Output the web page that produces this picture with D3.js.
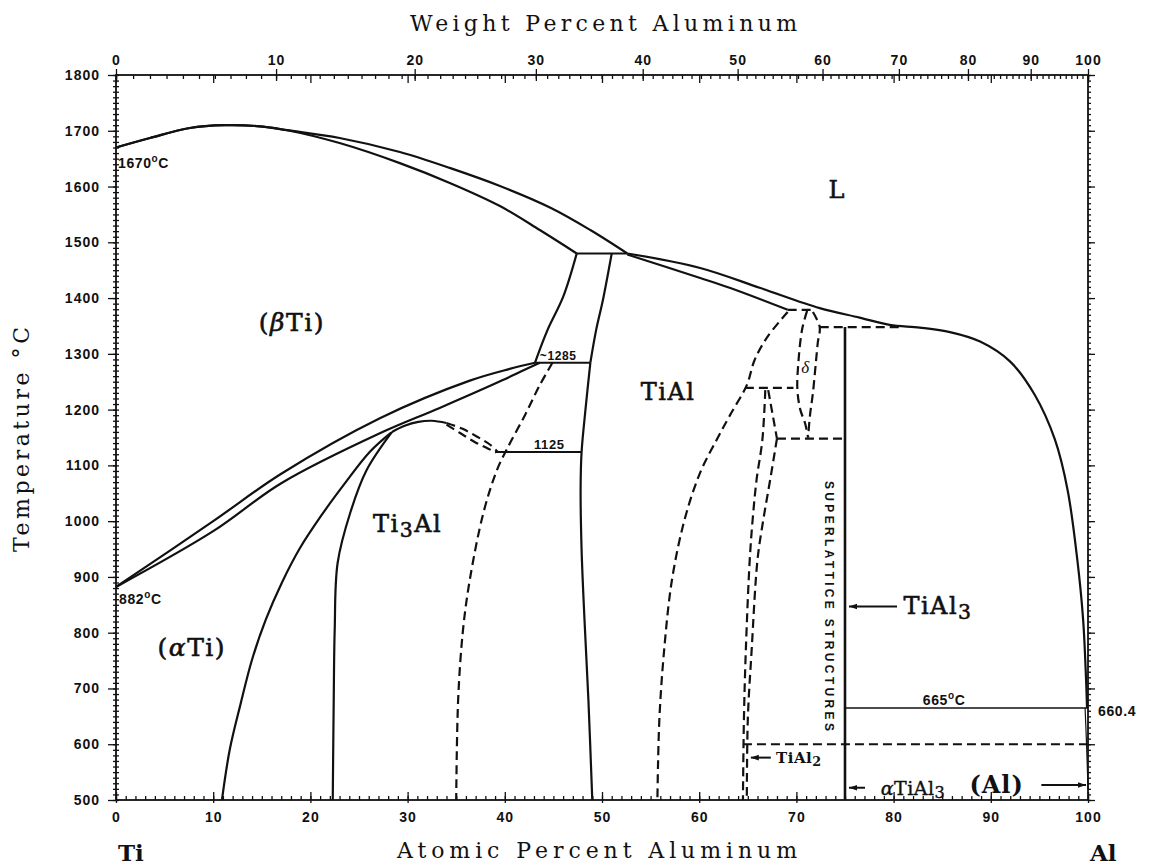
<!DOCTYPE html>
<html>
<head>
<meta charset="utf-8">
<script src="https://cdn.jsdelivr.net/npm/d3@7"></script>
<style>
body { margin: 0; background: #fff; }
</style>
</head>
<body>
<div id="chart"></div>
<script>
var width = 1149;
var height = 868;

// axes
var tempTicks = d3.range(500, 1801, 100);
var tempMinor = d3.range(500, 1801, 10);
var atomicTicks = d3.range(0, 101, 10);
var atomicMinor = d3.range(0, 101, 1);
var weightTicks = d3.range(0, 101, 10);
var weightMinor = d3.range(0, 101, 1);

// phase boundaries: [atomic % Al, temperature C]
var betaLiquidus = [[0,1670],[3.5,1687],[7.6,1705],[11.2,1710],[14.8,1708],[17.6,1701],[23,1687],[29.2,1662],[34.4,1633],[39.5,1601],[44.7,1562],[48.8,1522],[52.6,1480]];
var betaSolidus = [[0,1670],[3.5,1687],[7.6,1705],[11.2,1710],[14.8,1708],[17.6,1701],[23,1678],[29.2,1642],[34.4,1606],[39.5,1565],[43.6,1522],[47.4,1480]];
var alphaLiquidus = [[52.6,1480],[60.1,1454],[66.3,1418],[72.4,1382],[76.5,1365],[79.6,1352],[82.7,1347],[85.8,1339],[88.9,1322],[92.0,1286],[94.5,1227],[96.6,1146],[97.9,1056],[98.9,931],[99.5,823],[99.8,716],[99.9,665]];
var alphaSolidus = [[52.6,1478],[60.1,1436],[63.2,1418],[69.1,1379]];
var betaTransus = [[0,882],[10,1000],[17,1085],[27.2,1185],[36.4,1252],[40.5,1273],[43.1,1284]];
var alphaTransus = [[0,882],[10,982],[17,1068],[27.2,1158],[33.3,1203],[39.8,1253],[41.6,1268],[43.6,1284]];
var betaAlphaHigh = [[43.1,1284],[44.4,1343],[46.0,1402],[47.4,1480]];
var alphaBetaHigh = [[51.0,1480],[50.1,1397],[49.4,1343],[48.8,1284]];
var gammaLeft = [[48.8,1284],[48.3,1200],[47.9,1124],[47.8,1060],[47.9,949],[48.2,823],[48.6,680],[49.0,500]];
var alphaSolvus = [[10.9,500],[11.7,590],[12.8,671],[14.0,752],[15.4,823],[17.1,891],[18.9,951],[21.2,1012],[23.6,1069],[26.1,1124],[28.4,1160]];
var alpha2Left = [[22.3,500],[22.4,680],[22.5,805],[22.8,925],[24.1,1015],[25.8,1092],[28.4,1160]];
var alpha2Dome = [[28.4,1160],[29.7,1171],[31.1,1178],[32.5,1180],[34.0,1176]];
var tial3Line = [[75,1348],[75,500]];
var alSolvus = [[99.7,665],[99.85,600],[100,520]];

var alpha2DomeDashA = [[34.0,1176],[35.6,1166],[37.2,1151],[38.5,1137],[39.3,1124]];
var alpha2DomeDashB = [[34.0,1173],[35.4,1158],[36.9,1142],[38.3,1130],[39.1,1123]];
var alpha2Right = [[44.9,1284],[43.6,1244],[42.1,1191],[40.3,1132],[39.2,1092],[37.8,1015],[36.4,895],[35.7,805],[35.2,680],[35.0,500]];
var gammaRight = [[69.1,1375],[67.0,1330],[65.7,1289],[64.9,1244],[63.2,1191],[61.8,1146],[60.1,1087],[58.5,1003],[57.2,895],[56.4,770],[55.9,644],[55.7,500]];
var deltaLeft = [[71.1,1377],[70.6,1345],[70.2,1284],[70.1,1236],[70.4,1200],[70.9,1175],[71.2,1150]];
var deltaRight = [[71.7,1375],[72.4,1348],[72.2,1320],[72.0,1284],[71.7,1230],[71.4,1190],[71.2,1150]];
var tial2Left = [[66.8,1235],[66.5,1146],[65.9,1074],[65.5,1003],[65.2,931],[64.8,770],[64.6,644],[64.5,500]];
var tial2Top = [[67.1,1235],[68.0,1148]];
var tial2Right = [[68.0,1148],[67.3,1074],[66.6,1003],[66.0,931],[65.4,770],[65.0,644],[64.9,500]];

// invariant lines: [from % Al, to % Al, temperature]
var solidIsotherms = [[47.4,52.6,1480],[43.1,48.8,1284],[39.0,47.9,1124],[75,100,665]];
var dashedIsotherms = [[69.1,71.7,1379],[64.7,69.7,1239],[72.4,80.6,1348],[68.0,74.9,1148],[64.5,100,600]];

var svg = d3.select("#chart").append("svg")
	.attr("width", width)
	.attr("height", height);

var x = d3.scaleLinear().domain([0, 100]).range([116, 1088]);
var y = d3.scaleLinear().domain([500, 1800]).range([800, 75]);

// weight % -> atomic %
function wtToAt(w) {
	var al = w / 26.98, ti = (100 - w) / 47.87;
	return w >= 100 ? 100 : 100 * al / (al + ti);
}

var ink = "#111";
var numFont = "'Liberation Sans', Arial, sans-serif";
var typeFont = "'DejaVu Serif', 'Liberation Serif', serif";

function styleAxis(g) {
	g.select(".domain").remove();
	g.selectAll("line").attr("stroke", ink).attr("stroke-width", 1.3);
	g.selectAll("text")
		.attr("font-family", numFont)
		.attr("font-size", 14)
		.attr("font-weight", "bold")
		.attr("letter-spacing", 1)
		.attr("fill", ink);
}

// bottom axis (atomic percent)
var bottomAxis = svg.append("g").attr("transform", "translate(0," + y(500) + ")");
bottomAxis.append("g").call(d3.axisBottom(x).tickValues(atomicMinor).tickSize(-4).tickFormat("")).call(styleAxis);
bottomAxis.append("g").call(d3.axisBottom(x).tickValues(atomicTicks).tickSize(3).tickFormat("")).call(styleAxis);
bottomAxis.append("g").call(d3.axisBottom(x).tickValues(atomicTicks).tickSizeInner(-8).tickSizeOuter(0).tickPadding(12).tickFormat(d3.format("d"))).call(styleAxis);

// left axis
var leftAxis = svg.append("g").attr("transform", "translate(" + x(0) + ",0)");
leftAxis.append("g").call(d3.axisLeft(y).tickValues(tempMinor).tickSize(3).tickFormat("")).call(styleAxis);
leftAxis.append("g").call(d3.axisLeft(y).tickValues(tempMinor).tickSize(-3).tickFormat("")).call(styleAxis);
leftAxis.append("g").call(d3.axisLeft(y).tickValues(tempTicks).tickSize(8).tickPadding(8).tickFormat(d3.format("d"))).call(styleAxis);

// right axis
var rightAxis = svg.append("g").attr("transform", "translate(" + x(100) + ",0)");
rightAxis.append("g").call(d3.axisRight(y).tickValues(tempMinor).tickSize(3).tickFormat("")).call(styleAxis);
rightAxis.append("g").call(d3.axisRight(y).tickValues(tempTicks).tickSize(7).tickFormat("")).call(styleAxis);

// top axis (weight percent)
var topAxis = svg.append("g").attr("transform", "translate(0," + y(1800) + ")");
topAxis.append("g").call(d3.axisTop(x).tickValues(weightMinor.map(wtToAt)).tickSize(-4).tickFormat("")).call(styleAxis);
topAxis.append("g").call(d3.axisTop(x).tickValues(atomicTicks).tickSize(-8).tickFormat("")).call(styleAxis);
topAxis.append("g").call(d3.axisTop(x).tickValues(weightTicks.map(wtToAt)).tickSize(-6).tickFormat("")).call(styleAxis);
topAxis.append("g").call(d3.axisTop(x).tickValues(weightTicks.map(wtToAt)).tickSizeInner(6).tickSizeOuter(0).tickPadding(4)
	.tickFormat(function (d, i) { return weightTicks[i]; })).call(styleAxis);

// frame
svg.append("rect")
	.attr("x", x(0)).attr("y", y(1800))
	.attr("width", x(100) - x(0)).attr("height", y(500) - y(1800))
	.attr("fill", "none").attr("stroke", ink).attr("stroke-width", 1.8);

var line = d3.line()
	.x(function (d) { return x(d[0]); })
	.y(function (d) { return y(d[1]); })
	.curve(d3.curveCatmullRom.alpha(0.5));

var solidCurves = [betaLiquidus, betaSolidus, alphaLiquidus, alphaSolidus, betaTransus, alphaTransus,
	betaAlphaHigh, alphaBetaHigh, gammaLeft, alphaSolvus, alpha2Left, alpha2Dome];
var dashedCurves = [alpha2DomeDashA, alpha2DomeDashB, alpha2Right, gammaRight, deltaLeft, deltaRight,
	tial2Left, tial2Top, tial2Right];

svg.append("g").selectAll("path")
	.data(solidCurves)
	.enter().append("path")
	.attr("d", line)
	.attr("fill", "none").attr("stroke", ink).attr("stroke-width", 2.2);

svg.append("g").selectAll("path")
	.data(dashedCurves)
	.enter().append("path")
	.attr("d", line)
	.attr("fill", "none").attr("stroke", ink).attr("stroke-width", 2.2)
	.attr("stroke-dasharray", "9,5");

svg.append("path").attr("d", d3.line().x(function (d) { return x(d[0]); }).y(function (d) { return y(d[1]); })(tial3Line))
	.attr("stroke", ink).attr("stroke-width", 2.6);
svg.append("path").attr("d", line(alSolvus))
	.attr("fill", "none").attr("stroke", ink).attr("stroke-width", 1.2);

svg.append("g").selectAll("line")
	.data(solidIsotherms)
	.enter().append("line")
	.attr("x1", function (d) { return x(d[0]); })
	.attr("x2", function (d) { return x(d[1]); })
	.attr("y1", function (d) { return y(d[2]); })
	.attr("y2", function (d) { return y(d[2]); })
	.attr("stroke", ink)
	.attr("stroke-width", function (d) { return d[2] < 700 ? 1.5 : 2; });

svg.append("g").selectAll("line")
	.data(dashedIsotherms)
	.enter().append("line")
	.attr("x1", function (d) { return x(d[0]); })
	.attr("x2", function (d) { return x(d[1]); })
	.attr("y1", function (d) { return y(d[2]); })
	.attr("y2", function (d) { return y(d[2]); })
	.attr("stroke", ink).attr("stroke-width", 2.2)
	.attr("stroke-dasharray", "9,5");

// arrow heads
svg.append("defs").append("marker")
	.attr("id", "arr").attr("viewBox", "0 0 10 10")
	.attr("refX", 10).attr("refY", 5)
	.attr("markerWidth", 4).attr("markerHeight", 4)
	.attr("orient", "auto")
	.append("path").attr("d", "M0,1.5L10,5L0,8.5Z").attr("fill", ink);

function arrow(x1, y1, x2, y2) {
	svg.append("line")
		.attr("x1", x1).attr("y1", y1).attr("x2", x2).attr("y2", y2)
		.attr("stroke", ink).attr("stroke-width", 2)
		.attr("marker-end", "url(#arr)");
}

// small temperature notes
function degLabel(px, py, num, unit) {
	var t = svg.append("text")
		.attr("x", px).attr("y", py)
		.attr("font-family", numFont).attr("font-size", 14).attr("font-weight", "bold")
		.attr("letter-spacing", 0.6).attr("fill", ink);
	t.append("tspan").text(num);
	if (unit) {
		t.append("tspan").attr("dy", -6).attr("font-size", 10).text("o");
		t.append("tspan").attr("dy", 6).text("C");
	}
	return t;
}
degLabel(x(0) + 2, y(1670) + 20, "1670", true);
degLabel(x(0) + 3, y(882) + 17, "882", true);
degLabel(x(83.0), y(665) - 3, "665", true);
degLabel(x(100) + 10, y(665) + 8, "660.4", false);
degLabel(x(43.6), y(1284) - 3, "~1285", false).attr("font-size", 12);
degLabel(x(43.0), y(1124) - 3, "1125", false).attr("font-size", 13);

// phase labels
function phase(px, py, parts, size) {
	var fs = size || 24;
	var t = svg.append("text")
		.attr("x", px).attr("y", py)
		.attr("text-anchor", "middle")
		.attr("dominant-baseline", "central")
		.attr("font-family", typeFont)
		.attr("font-size", fs)
		.attr("letter-spacing", 1.5)
		.attr("fill", ink)
		.attr("stroke", ink).attr("stroke-width", 0.6);
	parts.forEach(function (p) {
		var s = t.append("tspan").text(p.t);
		if (p.sub) s.attr("dy", fs * 0.25).attr("font-size", fs * 0.85);
		if (p.back) s.attr("dy", -fs * 0.25);
		if (p.it) s.attr("font-style", "italic");
	});
	return t;
}
phase(x(74.2), y(1594), [{t: "L"}]);
phase(x(18.1), y(1357), [{t: "("}, {t: "\u03b2", it: true}, {t: "Ti)"}], 25);
phase(x(56.8), y(1232), [{t: "TiAl"}]);
phase(x(30.0), y(995), [{t: "Ti"}, {t: "3", sub: true}, {t: "Al", back: true}]);
phase(x(7.8), y(775), [{t: "("}, {t: "\u03b1", it: true}, {t: "Ti)"}], 25);

svg.append("text")
	.attr("x", x(70.9)).attr("y", y(1275))
	.attr("text-anchor", "middle").attr("dominant-baseline", "central")
	.attr("font-family", "'Liberation Serif', serif").attr("font-style", "italic")
	.attr("font-size", 17).attr("fill", ink).text("\u03b4");

// TiAl3 and friends
arrow(x(75) + 52, y(847), x(75) + 4, y(847));
phase(x(75) + 93, y(847), [{t: "TiAl"}, {t: "3", sub: true}], 24);
arrow(x(64.9) + 24, y(576), x(64.9) + 4, y(576));
phase(x(64.9) + 52, y(576), [{t: "TiAl"}, {t: "2", sub: true}], 15).attr("font-weight", "bold").attr("letter-spacing", 0.5).attr("stroke-width", 0);
arrow(x(75) + 20, y(522), x(75) + 4, y(522));
phase(x(75) + 68, y(522), [{t: "\u03b1", it: true}, {t: "TiAl"}, {t: "3", sub: true}], 19).attr("letter-spacing", 0.5).attr("stroke-width", 0.4);
phase(x(90.6), y(528), [{t: "(Al)"}], 24).attr("font-weight", "bold").attr("letter-spacing", 1).attr("stroke-width", 0);
arrow(x(95.2), y(527), x(100) - 2, y(527));

svg.append("text")
	.attr("transform", "translate(" + (x(75) - 16) + "," + y(848) + ") rotate(90)")
	.attr("text-anchor", "middle").attr("dominant-baseline", "central")
	.attr("font-family", numFont).attr("font-size", 12).attr("font-weight", "bold")
	.attr("textLength", 250).attr("lengthAdjust", "spacing")
	.attr("fill", ink)
	.text("SUPERLATTICE STRUCTURES");

// axis titles and end members
svg.append("text")
	.attr("x", 410).attr("y", 31)
	.attr("font-family", typeFont).attr("font-size", 22)
	.attr("textLength", 387).attr("lengthAdjust", "spacing").attr("fill", ink)
	.text("Weight Percent Aluminum");
svg.append("text")
	.attr("x", 397).attr("y", 858)
	.attr("font-family", typeFont).attr("font-size", 22)
	.attr("textLength", 400).attr("lengthAdjust", "spacing").attr("fill", ink)
	.text("Atomic Percent Aluminum");
svg.append("text")
	.attr("transform", "translate(29,552) rotate(-90)")
	.attr("font-family", typeFont).attr("font-size", 22)
	.attr("textLength", 225).attr("lengthAdjust", "spacing").attr("fill", ink)
	.text("Temperature \u00b0C");
svg.append("text")
	.attr("x", 118).attr("y", 861)
	.attr("font-family", typeFont).attr("font-size", 23).attr("font-weight", "bold").attr("fill", ink)
	.text("Ti");
svg.append("text")
	.attr("x", 1090).attr("y", 861)
	.attr("font-family", typeFont).attr("font-size", 23).attr("font-weight", "bold").attr("fill", ink)
	.text("Al");
</script>
</body>
</html>
